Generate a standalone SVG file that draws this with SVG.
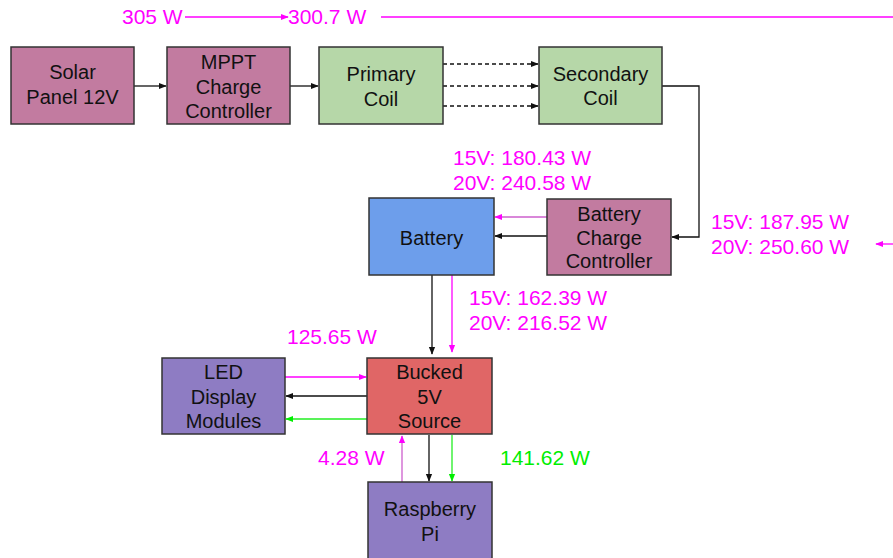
<svg xmlns="http://www.w3.org/2000/svg" width="893" height="558" viewBox="0 0 893 558">
<style>
.node rect{stroke:#333;stroke-width:1.5}
.node text{font-family:"Liberation Sans",Arial,sans-serif;font-size:20px;fill:#111;text-anchor:middle}
.lbl{font-family:"Liberation Sans",Arial,sans-serif;font-size:21px;fill:#ff00ff}
.g{fill:#00ee00}
.c{fill:none;stroke-width:1.3}
.k{stroke:#111}
.m{stroke:#ff00ff}
.mp{stroke:#cc5fcc}
.gr{stroke:#22ee22}
.d{stroke-dasharray:4 3}
</style>
<defs>
<marker id="ak" viewBox="0 0 10 10" refX="9" refY="5" markerWidth="8" markerHeight="8" markerUnits="userSpaceOnUse" orient="auto"><path d="M0,1 L10,5 L0,9 z" fill="#111"/></marker>
<marker id="am" viewBox="0 0 10 10" refX="9" refY="5" markerWidth="8" markerHeight="8" markerUnits="userSpaceOnUse" orient="auto"><path d="M0,1 L10,5 L0,9 z" fill="#ff00ff"/></marker>
<marker id="ag" viewBox="0 0 10 10" refX="9" refY="5" markerWidth="8" markerHeight="8" markerUnits="userSpaceOnUse" orient="auto"><path d="M0,1 L10,5 L0,9 z" fill="#00ee00"/></marker>
</defs>
<rect width="893" height="558" fill="#fff"/>

<g id="connectors">
<line class="c k" x1="134" y1="86" x2="166" y2="86" marker-end="url(#ak)"/>
<line class="c k" x1="290" y1="86" x2="318" y2="86" marker-end="url(#ak)"/>
<line class="c k d" x1="443" y1="64" x2="538" y2="64" marker-end="url(#ak)"/>
<line class="c k d" x1="443" y1="86" x2="538" y2="86" marker-end="url(#ak)"/>
<line class="c k d" x1="443" y1="106" x2="538" y2="106" marker-end="url(#ak)"/>
<polyline class="c k" points="662,86 699,86 699,237 672,237" marker-end="url(#ak)"/>
<line class="c mp" x1="547" y1="217" x2="495" y2="217" marker-end="url(#am)"/>
<line class="c k" x1="547" y1="236" x2="495" y2="236" marker-end="url(#ak)"/>
<line class="c k" x1="432" y1="275" x2="432" y2="354" marker-end="url(#ak)"/>
<line class="c m" x1="452" y1="272" x2="452" y2="352" marker-end="url(#am)"/>
<line class="c m" x1="285" y1="377" x2="366" y2="377" marker-end="url(#am)"/>
<line class="c k" x1="367" y1="396" x2="286" y2="396" marker-end="url(#ak)"/>
<line class="c gr" x1="367" y1="419" x2="286" y2="419" marker-end="url(#ag)"/>
<line class="c mp" x1="402" y1="482" x2="402" y2="436" marker-end="url(#am)"/>
<line class="c k" x1="429" y1="435" x2="429" y2="481" marker-end="url(#ak)"/>
<line class="c gr" x1="452" y1="435" x2="452" y2="481" marker-end="url(#ag)"/>
<line class="c m" x1="185" y1="17" x2="288" y2="17" marker-end="url(#am)"/>
<line class="c m" x1="381" y1="17" x2="893" y2="17"/>
<line class="c m" x1="893" y1="244" x2="876" y2="244" marker-end="url(#am)"/>
</g>

<g id="solar" class="node"><rect x="11" y="47" width="123" height="77" fill="#c27ba0"/><text x="72.5" y="79">Solar</text><text x="72.5" y="104">Panel 12V</text></g>
<g id="mppt" class="node"><rect x="167" y="47" width="123" height="77" fill="#c27ba0"/><text x="228.5" y="69">MPPT</text><text x="228.5" y="94">Charge</text><text x="228.5" y="118">Controller</text></g>
<g id="primary" class="node"><rect x="319" y="47" width="124" height="77" fill="#b6d7a8"/><text x="381" y="81">Primary</text><text x="381" y="106">Coil</text></g>
<g id="secondary" class="node"><rect x="539" y="47" width="123" height="77" fill="#b6d7a8"/><text x="600.5" y="81">Secondary</text><text x="600.5" y="105">Coil</text></g>
<g id="bcc" class="node"><rect x="547" y="199" width="124" height="76" fill="#c27ba0"/><text x="609" y="221">Battery</text><text x="609" y="245">Charge</text><text x="609" y="268">Controller</text></g>
<g id="battery" class="node"><rect x="369" y="198" width="125" height="77" fill="#6d9eeb"/><text x="431.5" y="245">Battery</text></g>
<g id="bucked" class="node"><rect x="367" y="358" width="125" height="76" fill="#e06666"/><text x="429.5" y="379">Bucked</text><text x="429.5" y="404">5V</text><text x="429.5" y="428">Source</text></g>
<g id="led" class="node"><rect x="162" y="358" width="123" height="76" fill="#8e7cc3"/><text x="223.5" y="379">LED</text><text x="223.5" y="404">Display</text><text x="223.5" y="428">Modules</text></g>
<g id="rpi" class="node"><rect x="368" y="482" width="124" height="78" fill="#8e7cc3"/><text x="430" y="516">Raspberry</text><text x="430" y="541">Pi</text></g>

<g id="labels">
<text class="lbl" x="122" y="24">305 W</text>
<text class="lbl" x="288" y="24">300.7 W</text>
<text class="lbl" x="453" y="165">15V: 180.43 W</text>
<text class="lbl" x="453" y="190">20V: 240.58 W</text>
<text class="lbl" x="711" y="229">15V: 187.95 W</text>
<text class="lbl" x="711" y="254">20V: 250.60 W</text>
<text class="lbl" x="469" y="305">15V: 162.39 W</text>
<text class="lbl" x="469" y="330">20V: 216.52 W</text>
<text class="lbl" x="287" y="344">125.65 W</text>
<text class="lbl" x="318" y="465">4.28 W</text>
<text class="lbl g" x="500" y="465">141.62 W</text>
</g>
</svg>
